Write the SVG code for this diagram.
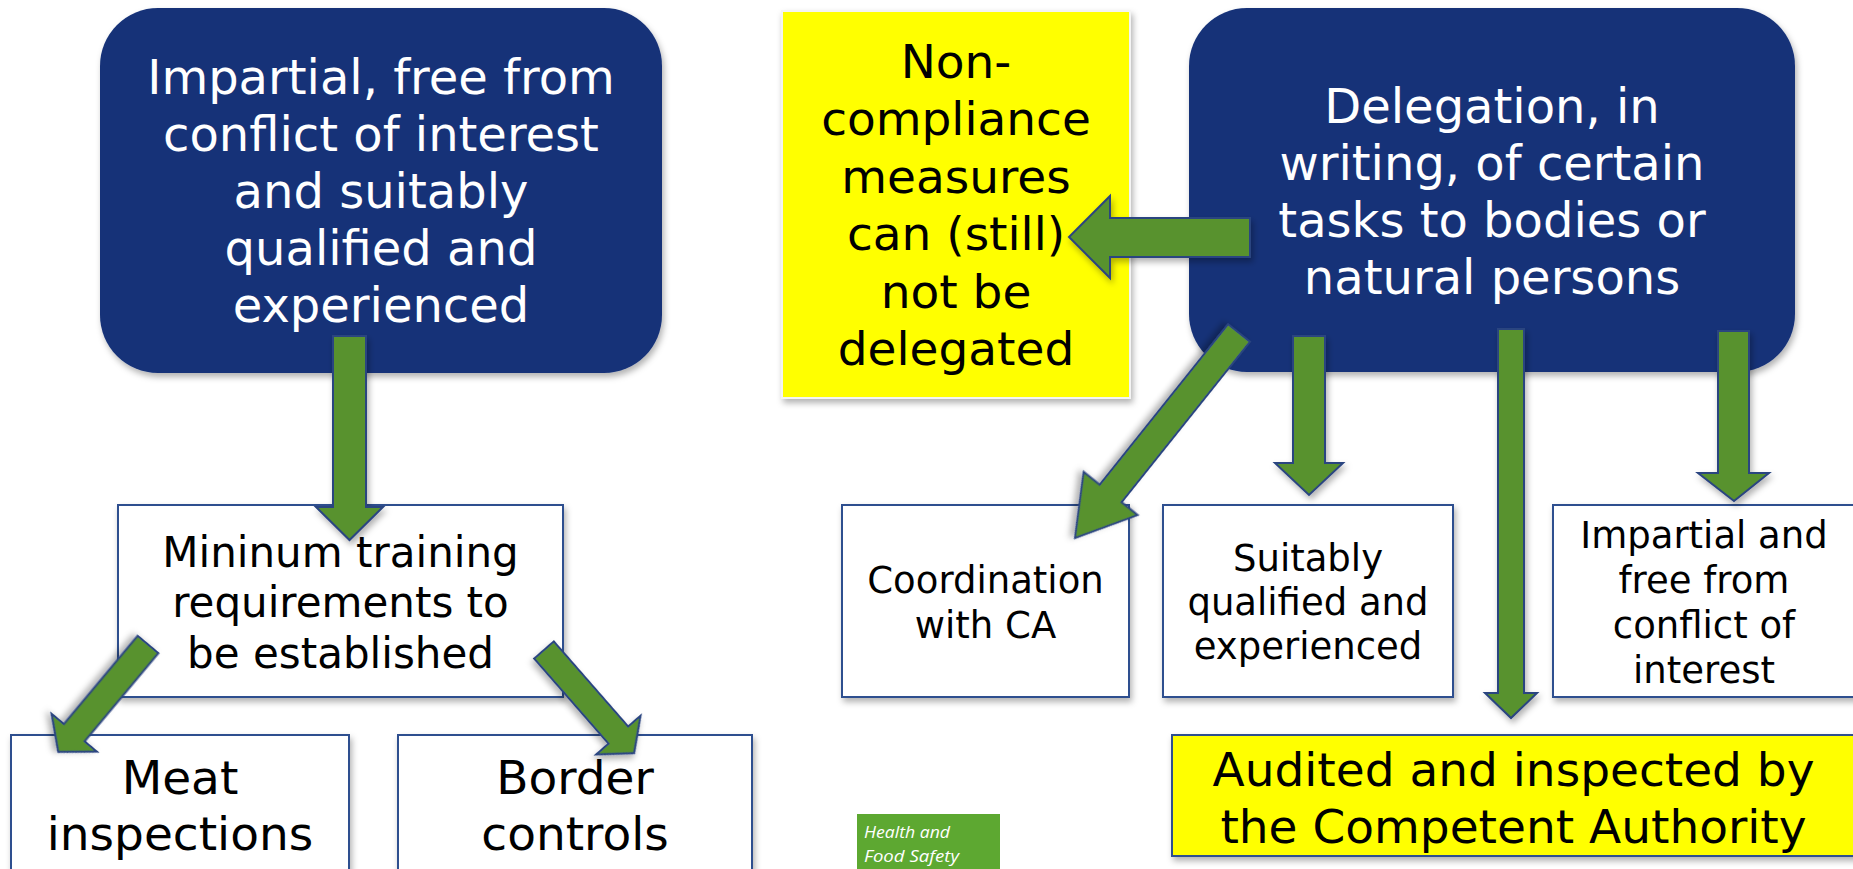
<svg xmlns="http://www.w3.org/2000/svg" width="1853" height="869" viewBox="0 0 1853 869">
<defs>
<filter id="sh" x="-10%" y="-10%" width="130%" height="130%">
<feDropShadow dx="2" dy="4" stdDeviation="3" flood-color="#000" flood-opacity="0.3"/>
</filter>
<style>
.blue{fill:#153278;filter:url(#sh)}
.box{fill:#fff;stroke:#2F4F8F;stroke-width:2;filter:url(#sh)}
.ybox{fill:#FFFF00;stroke:#2F4F8F;stroke-width:2;filter:url(#sh)}
.ybox2{fill:#FFFF00;stroke:#f4f4f4;stroke-width:2;filter:url(#sh)}
.arr{fill:#58922F;stroke:#2A4480;stroke-width:2;stroke-linejoin:miter;filter:url(#sh)}
text{font-family:"DejaVu Sans","Verdana",sans-serif;text-anchor:middle}
.w{fill:#fff}
.k{fill:#000}
.f48{font-size:48px}
.f47{font-size:47px}
.f42{font-size:42px}
.f37{font-size:37px}
.logo{font-family:"Open Sans","Liberation Sans",sans-serif;font-style:italic;font-size:17px;fill:#fff;text-anchor:start}
</style>
</defs>
<rect width="1853" height="869" fill="#fff"/>

<g id="node-impartial-top">
<rect class="blue" x="100" y="8" width="562" height="365" rx="58" ry="58"/>
<text class="w f48" x="381" y="94">Impartial, free from</text>
<text class="w f48" x="381" y="151">conflict of interest</text>
<text class="w f48" x="381" y="208">and suitably</text>
<text class="w f48" x="381" y="265">qualified and</text>
<text class="w f48" x="381" y="322">experienced</text>
</g>

<g id="node-noncompliance">
<rect class="ybox2" x="782" y="11" width="348" height="387"/>
<text class="k f47" x="956" y="78">Non-</text>
<text class="k f47" x="956" y="135">compliance</text>
<text class="k f47" x="956" y="193">measures</text>
<text class="k f47" x="956" y="250">can (still)</text>
<text class="k f47" x="956" y="308">not be</text>
<text class="k f47" x="956" y="365">delegated</text>
</g>

<g id="node-delegation">
<rect class="blue" x="1189" y="8" width="606" height="364" rx="58" ry="58"/>
<text class="w f48" x="1492" y="123">Delegation, in</text>
<text class="w f48" x="1492" y="180">writing, of certain</text>
<text class="w f48" x="1492" y="237">tasks to bodies or</text>
<text class="w f48" x="1492" y="294">natural persons</text>
</g>

<g id="node-training">
<rect class="box" x="118" y="505" width="445" height="192"/>
<text class="k f42" x="340.5" y="567">Mininum training</text>
<text class="k f42" x="340.5" y="617">requirements to</text>
<text class="k f42" x="340.5" y="668">be established</text>
</g>

<g id="node-meat">
<rect class="box" x="11" y="735" width="338" height="150"/>
<text class="k f47" x="180" y="794">Meat</text>
<text class="k f47" x="180" y="850">inspections</text>
</g>

<g id="node-border">
<rect class="box" x="398" y="735" width="354" height="150"/>
<text class="k f47" x="575" y="794">Border</text>
<text class="k f47" x="575" y="850">controls</text>
</g>

<g id="node-coordination">
<rect class="box" x="842" y="505" width="287" height="192"/>
<text class="k f37" x="985.5" y="593">Coordination</text>
<text class="k f37" x="985.5" y="638">with CA</text>
</g>

<g id="node-suitably">
<rect class="box" x="1163" y="505" width="290" height="192"/>
<text class="k f37" x="1308" y="571">Suitably</text>
<text class="k f37" x="1308" y="615">qualified and</text>
<text class="k f37" x="1308" y="659">experienced</text>
</g>

<g id="node-impartial-right">
<rect class="box" x="1553" y="505" width="310" height="192"/>
<text class="k f37" x="1704" y="548">Impartial and</text>
<text class="k f37" x="1704" y="593">free from</text>
<text class="k f37" x="1704" y="638">conflict of</text>
<text class="k f37" x="1704" y="683">interest</text>
</g>

<g id="node-audited">
<rect class="ybox" x="1172" y="735" width="690" height="121"/>
<text class="k f47" x="1513.5" y="786">Audited and inspected by</text>
<text class="k f47" x="1513.5" y="843">the Competent Authority</text>
</g>

<g id="logo">
<rect x="857" y="814" width="143" height="60" fill="#5DA831"/>
<text class="logo" x="864" y="838" textLength="86" lengthAdjust="spacingAndGlyphs">Health and</text>
<text class="logo" x="864" y="862" textLength="95" lengthAdjust="spacingAndGlyphs">Food Safety</text>
</g>

<g id="connectors">
<polygon class="arr" points="333,336 366,336 366,507 383,507 349.5,540 316,507 333,507"/>
<polygon class="arr" transform="translate(148,644.5) rotate(129.9)" points="0,-13.5 115,-13.5 115,-29.5 140,0 115,29.5 115,13.5 0,13.5"/>
<polygon class="arr" transform="translate(544,650) rotate(48.85)" points="0,-13 113,-13 113,-29.5 137,0 113,29.5 113,13 0,13"/>
<polygon class="arr" points="1250,218 1250,257 1110,257 1110,278 1069,237 1110,196 1110,218"/>
<polygon class="arr" transform="translate(1239,333) rotate(128.66)" points="0,-14 205.5,-14 205.5,-34.5 262.5,0 205.5,34.5 205.5,14 0,14"/>
<polygon class="arr" points="1293,336 1325,336 1325,463 1343,463 1309,495 1275,463 1293,463"/>
<polygon class="arr" points="1498,329 1524,329 1524,693 1537,693 1511,718 1485,693 1498,693"/>
<polygon class="arr" points="1718,331 1749,331 1749,473 1769,473 1734,501 1698,473 1718,473"/>
</g>
</svg>
